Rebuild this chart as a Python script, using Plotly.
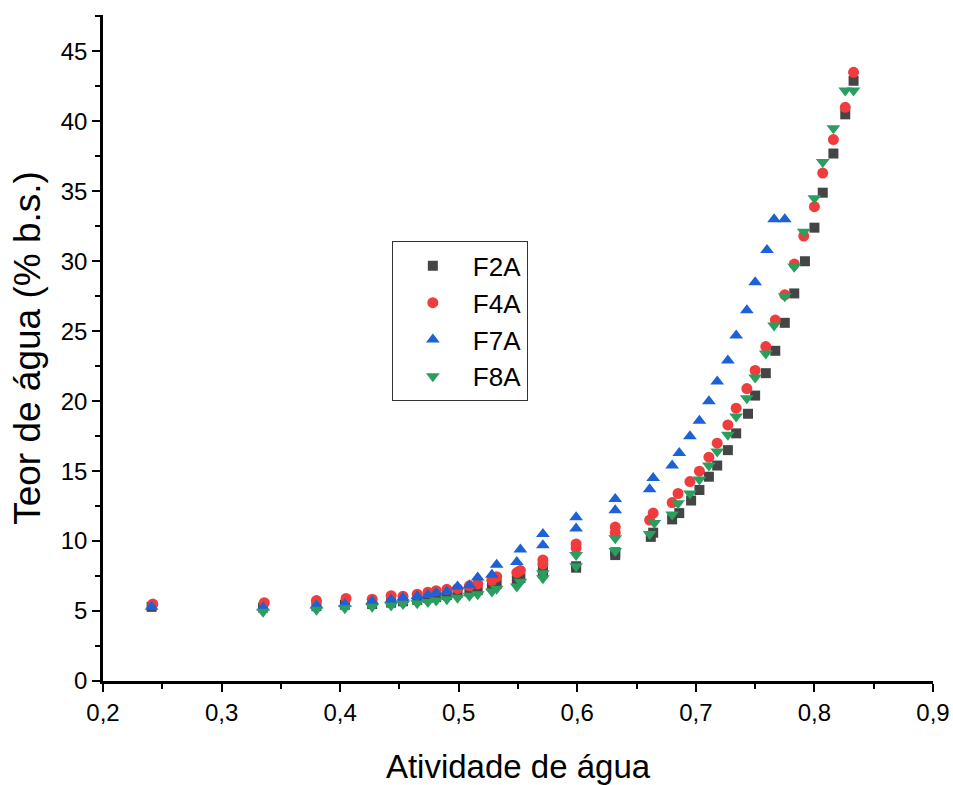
import plotly.graph_objects as go

# ---- data ----
f2a_x = [0.241, 0.335, 0.380, 0.404, 0.427, 0.443, 0.453, 0.465, 0.474, 0.481, 0.490, 0.499, 0.509, 0.516,
         0.528, 0.532, 0.549, 0.552, 0.571, 0.571, 0.599, 0.599, 0.632, 0.632, 0.662, 0.664, 0.680, 0.686,
         0.696, 0.703, 0.711, 0.718, 0.727, 0.734, 0.744, 0.750, 0.759, 0.767, 0.775, 0.783, 0.792, 0.800,
         0.807, 0.816, 0.826, 0.833]
f2a_y = [5.3, 5.25, 5.35, 5.45, 5.5, 5.6, 5.7, 5.8, 5.95, 6.0, 6.15, 6.3, 6.4, 6.5,
         6.8, 6.95, 7.2, 7.35, 7.7, 7.9, 8.1, 8.2, 9.0, 9.2, 10.3, 10.6, 11.55, 12.0,
         12.9, 13.65, 14.6, 15.4, 16.5, 17.7, 19.1, 20.4, 22.0, 23.6, 25.6, 27.7, 30.0, 32.4,
         34.9, 37.7, 40.5, 42.9]

f4a_x = [0.242, 0.336, 0.380, 0.405, 0.427, 0.443, 0.453, 0.465, 0.474, 0.481, 0.490, 0.499, 0.509, 0.516,
         0.528, 0.532, 0.549, 0.552, 0.571, 0.571, 0.599, 0.599, 0.632, 0.632, 0.661, 0.664, 0.680, 0.685,
         0.695, 0.703, 0.711, 0.718, 0.727, 0.734, 0.743, 0.750, 0.759, 0.767, 0.775, 0.783, 0.791, 0.800,
         0.807, 0.816, 0.826, 0.833]
f4a_y = [5.5, 5.6, 5.75, 5.9, 5.85, 6.1, 6.05, 6.2, 6.35, 6.45, 6.55, 6.6, 6.8, 6.95,
         7.2, 7.45, 7.75, 7.9, 8.35, 8.65, 9.5, 9.8, 10.6, 11.0, 11.5, 12.0, 12.75, 13.4,
         14.25, 15.0, 16.0, 17.0, 18.3, 19.5, 20.9, 22.2, 23.9, 25.8, 27.6, 29.8, 31.8, 33.9,
         36.3, 38.7, 41.0, 43.5]

f7a_x = [0.241, 0.335, 0.380, 0.404, 0.427, 0.443, 0.453, 0.465, 0.474, 0.481, 0.490, 0.499, 0.509, 0.516,
         0.528, 0.532, 0.549, 0.552, 0.571, 0.571, 0.599, 0.599, 0.632, 0.632, 0.661, 0.664, 0.680, 0.686,
         0.695, 0.703, 0.711, 0.718, 0.727, 0.734, 0.743, 0.750, 0.760, 0.766, 0.775]
f7a_y = [5.3, 5.25, 5.4, 5.5, 5.7, 5.8, 5.95, 6.05, 6.15, 6.3, 6.4, 6.75, 6.85, 7.4,
         7.6, 8.3, 8.5, 9.4, 9.7, 10.5, 10.9, 11.7, 12.2, 13.0, 13.7, 14.5, 15.4, 16.3,
         17.5, 18.6, 20.0, 21.4, 22.9, 24.7, 26.5, 28.5, 30.8, 33.0, 33.0]

f8a_x = [0.335, 0.380, 0.404, 0.427, 0.443, 0.453, 0.465, 0.474, 0.481, 0.490, 0.499, 0.509, 0.516,
         0.528, 0.532, 0.549, 0.552, 0.571, 0.571, 0.599, 0.599, 0.632, 0.632, 0.661, 0.665, 0.680, 0.685,
         0.695, 0.703, 0.711, 0.718, 0.727, 0.734, 0.743, 0.750, 0.759, 0.766, 0.775, 0.783, 0.791, 0.800,
         0.807, 0.816, 0.826, 0.833]
f8a_y = [4.95, 5.1, 5.2, 5.3, 5.4, 5.5, 5.55, 5.65, 5.75, 5.85, 5.95, 6.1, 6.2,
         6.4, 6.6, 6.75, 7.1, 7.35, 7.7, 8.2, 9.0, 9.3, 10.2, 10.5, 11.3, 11.9, 12.7,
         13.4, 14.4, 15.4, 16.4, 17.6, 18.9, 20.2, 21.7, 23.4, 25.4, 27.5, 29.6, 32.1, 34.5,
         37.1, 39.5, 42.2, 42.2]

series_names = ["F2A", "F4A", "F7A", "F8A"]
x_tick_vals = [0.2, 0.3, 0.4, 0.5, 0.6, 0.7, 0.8, 0.9]
y_tick_vals = [0, 5, 10, 15, 20, 25, 30, 35, 40, 45]

FONT = "Liberation Sans, Arial, sans-serif"

fig = go.Figure()
styles = [
    (f2a_x, f2a_y, "square", "#454545", 10),
    (f4a_x, f4a_y, "circle", "#f03c3c", 11),
    (f7a_x, f7a_y, "triangle-up", "#1c62d6", 12),
    (f8a_x, f8a_y, "triangle-down", "#2a9e5e", 12),
]
for name, (xs, ys, sym, col, sz) in zip(series_names, styles):
    fig.add_trace(go.Scatter(
        x=xs, y=ys, mode="markers", name=name,
        marker=dict(symbol=sym, color=col, size=sz, line=dict(width=0)),
    ))

axis_common = dict(
    showline=True, linecolor="black", linewidth=2.5, mirror=False, automargin=False,
    showgrid=False, zeroline=False, ticks="outside", ticklen=8, tickwidth=2,
    tickcolor="black", tickfont=dict(family=FONT, size=24, color="black"),
    ticklabeloverflow="allow",
)

fig.update_layout(
    width=953, height=785,
    margin=dict(l=103, r=20, t=15, b=104),
    paper_bgcolor="white", plot_bgcolor="white",
    separators=", ",
    font=dict(family=FONT, color="black"),
    xaxis=dict(
        range=[0.2, 0.9], tickvals=x_tick_vals, tickformat=".1f",
        minor=dict(ticks="outside", ticklen=5, tickwidth=2, tickcolor="black", dtick=0.05),
        title=dict(text="Atividade de água", font=dict(family=FONT, size=33), standoff=38),
        **axis_common,
    ),
    yaxis=dict(
        range=[0, 47.6], tickvals=y_tick_vals,
        minor=dict(ticks="outside", ticklen=5, tickwidth=2, tickcolor="black", dtick=2.5),
        title=dict(text="Teor de água (% b.s.)", font=dict(family=FONT, size=37), standoff=9),
        **axis_common,
    ),
    legend=dict(
        x=0.348, y=0.66, xanchor="left", yanchor="top",
        bgcolor="white", bordercolor="#333333", borderwidth=1,
        font=dict(family=FONT, size=26, color="black"),
        itemwidth=70,
    ),
    showlegend=True,
)

# remove the browser's default 8px body margin so the figure fills the window exactly
fig.write_html(
    "out.html",
    config={"displayModeBar": False},
    post_script="document.body.style.margin='0px';document.body.style.overflow='hidden';",
)
